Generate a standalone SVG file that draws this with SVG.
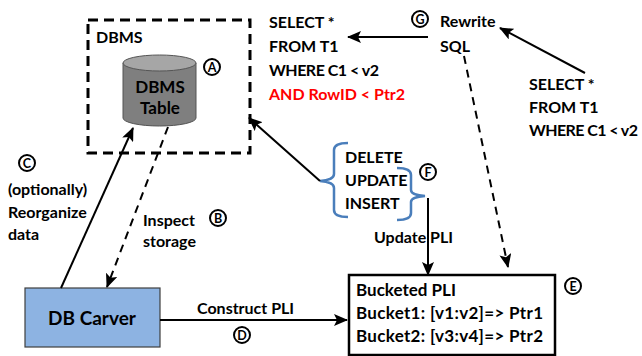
<svg xmlns="http://www.w3.org/2000/svg" width="642" height="356" viewBox="0 0 642 356">
<style>
text{font-family:Lato,"Liberation Sans",sans-serif;font-weight:bold;font-size:16px;fill:#000}
.red{fill:#ff0000}
.lbl{font-size:12.5px;text-anchor:middle}
.circ{fill:#fff;stroke:#000;stroke-width:2}
.ln{stroke:#000;stroke-width:2;fill:none}
.dash{stroke:#000;stroke-width:2;fill:none;stroke-dasharray:8 6}
.brace{stroke:#4a7ebb;stroke-width:2.5;fill:none}
.box{font-size:17px}
</style>
<defs>
<marker id="ah" markerWidth="14" markerHeight="12" refX="13" refY="6" orient="auto" markerUnits="userSpaceOnUse">
<path d="M0,0 L14,6 L0,12 L3,6 z" fill="#000"/>
</marker>
</defs>
<rect width="642" height="356" fill="#fff"/>

<g id="dbms">
<rect x="88" y="20" width="162" height="133" fill="none" stroke="#000" stroke-width="3" stroke-dasharray="10 6"/>
<text x="96" y="43">DBMS</text>
</g>

<g id="table">
<path d="M123,63 L123,118 A36.5,8 0 0 0 196,118 L196,63 Z" fill="#7f7f7f" stroke="#555" stroke-width="1"/>
<ellipse cx="159.5" cy="63" rx="36.5" ry="8" fill="#a6a6a6" stroke="#555" stroke-width="1"/>
<text x="160" y="93" text-anchor="middle" style="font-size:17px">DBMS</text>
<text x="160" y="114" text-anchor="middle" style="font-size:17px">Table</text>
<circle class="circ" cx="212" cy="67" r="8"/>
<text class="lbl" x="212" y="71.5">A</text>
</g>

<g id="carver">
<rect x="25" y="288" width="135" height="59" fill="#8db3e2" stroke="#3f3f3f" stroke-width="1.2"/>
<text x="92" y="325" text-anchor="middle" style="font-size:19px">DB Carver</text>
</g>

<g id="pli">
<rect x="349" y="275" width="206" height="80" fill="#fff" stroke="#000" stroke-width="2.5"/>
<text class="box" x="356" y="296">Bucketed PLI</text>
<text class="box" x="356" y="319" textLength="187">Bucket1: [v1:v2]=&gt; Ptr1</text>
<text class="box" x="356" y="342" textLength="187">Bucket2: [v3:v4]=&gt; Ptr2</text>
<circle class="circ" cx="573" cy="286" r="8"/>
<text class="lbl" x="573" y="290.5">E</text>
</g>

<g id="ops">
<path class="brace" d="M348,143 Q334,143 334,150 L334,174 Q334,180 320,181 Q334,182 334,188 L334,210 Q334,217 348,217"/>
<path class="brace" d="M397,168 Q411,168 411,175 L411,190 Q411,195 425,196 Q411,197 411,202 L411,213 Q411,220 397,220"/>
<text x="345" y="163">DELETE</text>
<text x="345" y="186">UPDATE</text>
<text x="345" y="209">INSERT</text>
<circle class="circ" cx="428" cy="172" r="8"/>
<text class="lbl" x="428" y="176.5">F</text>
</g>

<g id="query-out">
<text x="269" y="28">SELECT *</text>
<text x="269" y="52">FROM T1</text>
<text x="269" y="76" textLength="110">WHERE C1 &lt; v2</text>
<text class="red" x="269" y="100">AND RowID &lt; Ptr2</text>
</g>

<g id="rewrite">
<circle class="circ" cx="420" cy="19" r="8"/>
<text class="lbl" x="420" y="23.5">G</text>
<text x="440" y="27">Rewrite</text>
<text x="440" y="52">SQL</text>
</g>

<g id="query-in">
<text x="529" y="90">SELECT *</text>
<text x="529" y="113">FROM T1</text>
<text x="529" y="136" textLength="109">WHERE C1 &lt; v2</text>
</g>

<g id="labels">
<circle class="circ" cx="27" cy="163" r="8"/>
<text class="lbl" x="27" y="167.5">C</text>
<text x="8" y="195">(optionally)</text>
<text x="8" y="218">Reorganize</text>
<text x="8" y="240">data</text>
<text x="143" y="226">Inspect</text>
<text x="143" y="247">storage</text>
<circle class="circ" cx="218" cy="218" r="8"/>
<text class="lbl" x="218" y="222.5">B</text>
<text x="197" y="314">Construct PLI</text>
<circle class="circ" cx="242" cy="335" r="8"/>
<text class="lbl" x="242" y="339.5">D</text>
<text x="374" y="243">Update PLI</text>
</g>

<g id="connectors">
<line class="ln" x1="61" y1="288" x2="133" y2="128" marker-end="url(#ah)"/>
<line class="dash" x1="168" y1="127" x2="107" y2="287" marker-end="url(#ah)"/>
<line class="ln" x1="160" y1="320" x2="347" y2="320" marker-end="url(#ah)"/>
<line class="ln" x1="428" y1="198" x2="428" y2="275" marker-end="url(#ah)"/>
<line class="ln" x1="320" y1="181" x2="249" y2="118" marker-end="url(#ah)"/>
<line class="ln" x1="428" y1="37" x2="348" y2="37" marker-end="url(#ah)"/>
<line class="ln" x1="585" y1="73" x2="500" y2="28" marker-end="url(#ah)"/>
<line class="dash" x1="464" y1="56" x2="508" y2="267" marker-end="url(#ah)"/>
</g>
</svg>
